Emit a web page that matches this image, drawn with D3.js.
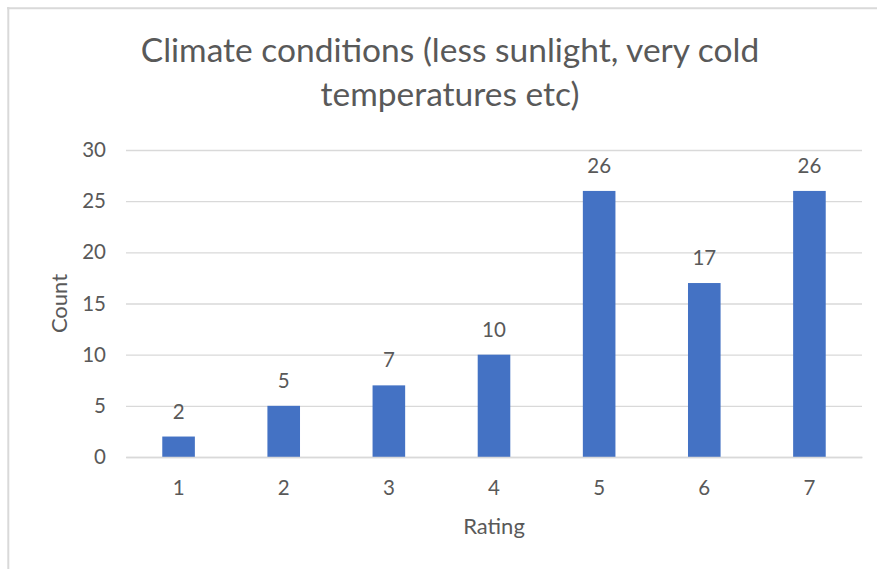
<!DOCTYPE html>
<html>
<head>
<meta charset="utf-8">
<script src="https://cdn.jsdelivr.net/npm/d3@7"></script>
<style>
  html, body { margin: 0; padding: 0; background: #fff; }
  svg { display: block; }
  text { font-family: Lato, "Open Sans", sans-serif; fill: #595959; }
</style>
</head>
<body>
<svg id="chart" width="877" height="569"></svg>
<script>
const categories = ["1", "2", "3", "4", "5", "6", "7"];
const counts = [2, 5, 7, 10, 26, 17, 26];
const yTicks = [0, 5, 10, 15, 20, 25, 30];
const titleLines = ["Climate conditions (less sunlight, very cold", "temperatures etc)"];
const xTitle = "Rating";
const yTitle = "Count";

const W = 877, H = 569;
const m = { left: 126, right: 862, top: 150, bottom: 457 };
const svg = d3.select("#chart");

// frame
svg.append("line").attr("x1", 7).attr("x2", W).attr("y1", 8.3).attr("y2", 8.3)
  .attr("stroke", "#d9d9d9").attr("stroke-width", 2);
svg.append("line").attr("x1", 8.3).attr("x2", 8.3).attr("y1", 7).attr("y2", H)
  .attr("stroke", "#d9d9d9").attr("stroke-width", 2);

const x = d3.scaleBand().domain(categories).range([m.left, m.right]).paddingInner(0.69).paddingOuter(0.345);
const y = d3.scaleLinear().domain([0, 30]).range([m.bottom, m.top]);

// gridlines
const yAxis = d3.axisLeft(y).tickValues(yTicks).tickSize(-(m.right - m.left)).tickPadding(20);
const gy = svg.append("g").attr("transform", `translate(${m.left},0)`).call(yAxis);
gy.select(".domain").remove();
gy.selectAll(".tick line").attr("stroke", "#d9d9d9").attr("stroke-width", 1.3);
gy.selectAll(".tick text").attr("font-size", 20.5).attr("fill", "#595959")
  .style("font-family", "Lato, sans-serif");

// bars
svg.append("g").selectAll("rect").data(counts).join("rect")
  .attr("x", (d, i) => x(categories[i]))
  .attr("y", d => y(d))
  .attr("width", x.bandwidth())
  .attr("height", d => y(0) - y(d))
  .attr("fill", "#4472c4");

// data labels
svg.append("g").selectAll("text").data(counts).join("text")
  .attr("x", (d, i) => x(categories[i]) + x.bandwidth() / 2)
  .attr("y", d => y(d) - 18)
  .attr("text-anchor", "middle")
  .attr("font-size", 20.5)
  .text(d => d);

// x axis
const xAxis = d3.axisBottom(x).tickSize(0).tickPadding(23.5);
const gx = svg.append("g").attr("transform", `translate(0,${m.bottom})`).call(xAxis);
gx.select(".domain").attr("stroke", "#d9d9d9").attr("stroke-width", 1.3);
gx.selectAll(".tick text").attr("font-size", 20.5).attr("fill", "#595959")
  .style("font-family", "Lato, sans-serif");

// axis titles
svg.append("text").attr("x", (m.left + m.right) / 2).attr("y", 534)
  .attr("text-anchor", "middle").attr("font-size", 22).text(xTitle);
svg.append("text").attr("transform", `translate(67,${(m.top + m.bottom) / 2}) rotate(-90)`)
  .attr("text-anchor", "middle").attr("font-size", 22).text(yTitle);

// title
svg.append("g").selectAll("text").data(titleLines).join("text")
  .attr("x", 450).attr("y", (d, i) => 62 + i * 44)
  .attr("text-anchor", "middle").attr("font-size", 33.5).text(d => d);
</script>
</body>
</html>
